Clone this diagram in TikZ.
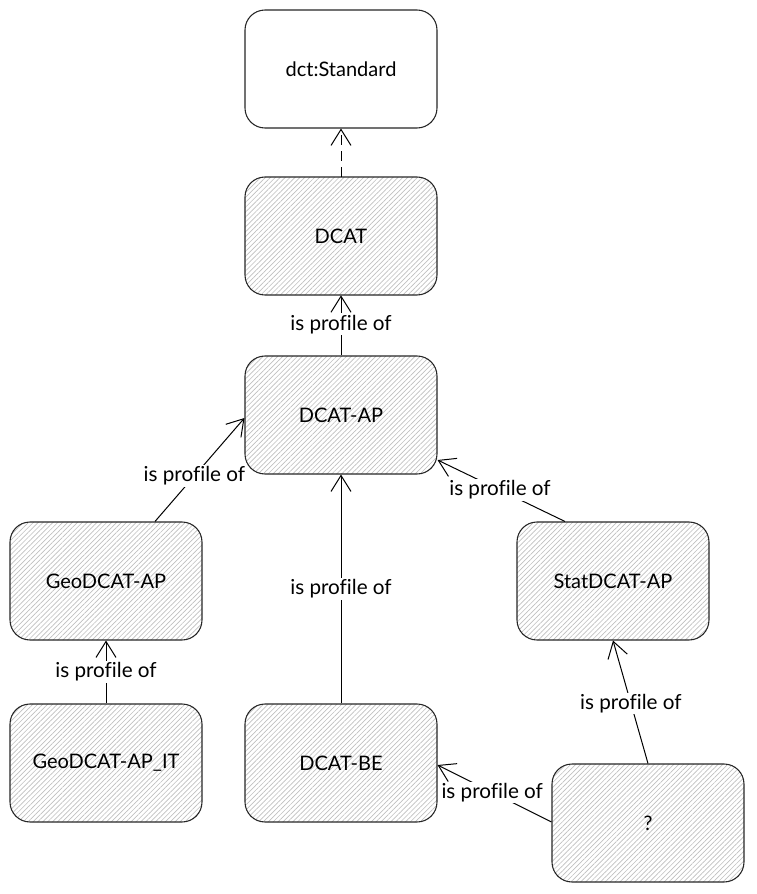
\documentclass[tikz,border=0pt]{standalone}
\usepackage{fontspec}
\setmainfont{Lato}[Ligatures=NoCommon]
\usetikzlibrary{arrows.meta,patterns.meta,calc}
\begin{document}
\begin{tikzpicture}[x=0.75pt,y=-0.75pt,
  box/.style={draw=black!85,line width=0.8pt,rounded corners=15pt,
    minimum width=144pt,minimum height=88.5pt,inner sep=0pt,font=\fontsize{15}{18}\selectfont},
  hatched/.style={box,pattern={Lines[angle=45,distance=2.6pt,line width=0.5pt]},pattern color=black!25},
  rel/.style={draw=black,line width=0.75pt,-{Straight Barb[length=12pt,width=15pt,line width=0.75pt]}},
  lbl/.style={fill=white,inner sep=1pt,font=\fontsize{15.5}{18}\selectfont}]
\useasboundingbox (0,0) rectangle (757,894);

% standards and profiles
\node[box,fill=white] (std) at (341,69) {dct:Standard};
\node[hatched] (dcat) at (341,236) {DCAT};
\node[hatched] (dcatap) at (341,415) {DCAT-AP};
\node[hatched] (geo) at (106,581) {GeoDCAT-AP};
\node[hatched] (stat) at (613,581) {StatDCAT-AP};
\node[hatched] (geoit) at (106,763) {GeoDCAT-AP\_IT};
\node[hatched] (be) at (341,763) {DCAT-BE};
\node[hatched] (unk) at (648,823) {?};

% attachment points on the borders
\coordinate (geoTop) at ($(geo.north)+(49,0)$);
\coordinate (apLeft) at ($(dcatap.west)+(0,3)$);
\coordinate (statTop) at ($(stat.north)+(-48,0)$);
\coordinate (apRight) at ($(dcatap.east)+(0,45)$);
\coordinate (unkTop) at (unk.north);
\coordinate (statBottom) at (stat.south);
\coordinate (unkLeft) at ($(unk.west)+(0,-1)$);
\coordinate (beRight) at ($(be.east)+(0,2)$);

% relations
\draw[rel,dash pattern=on 7.5pt off 4.5pt] (dcat.north) -- (std.south);
\draw[rel] (dcatap.north) -- node[lbl,pos=0.52] {is profile of} (dcat.south);
\draw[rel] (geoTop) -- node[lbl,pos=0.44] {is profile of} (apLeft);
\draw[rel] (statTop) -- node[lbl,pos=0.51] {is profile of} (apRight);
\draw[rel] (be.north) -- node[lbl,pos=0.5] {is profile of} (dcatap.south);
\draw[rel] (geoit.north) -- node[lbl,pos=0.5] {is profile of} (geo.south);
\draw[rel] (unkTop) -- node[lbl,pos=0.49] {is profile of} (statBottom);
\draw[rel] (unkLeft) -- node[lbl,pos=0.52] {is profile of} (beRight);
\end{tikzpicture}
\end{document}
